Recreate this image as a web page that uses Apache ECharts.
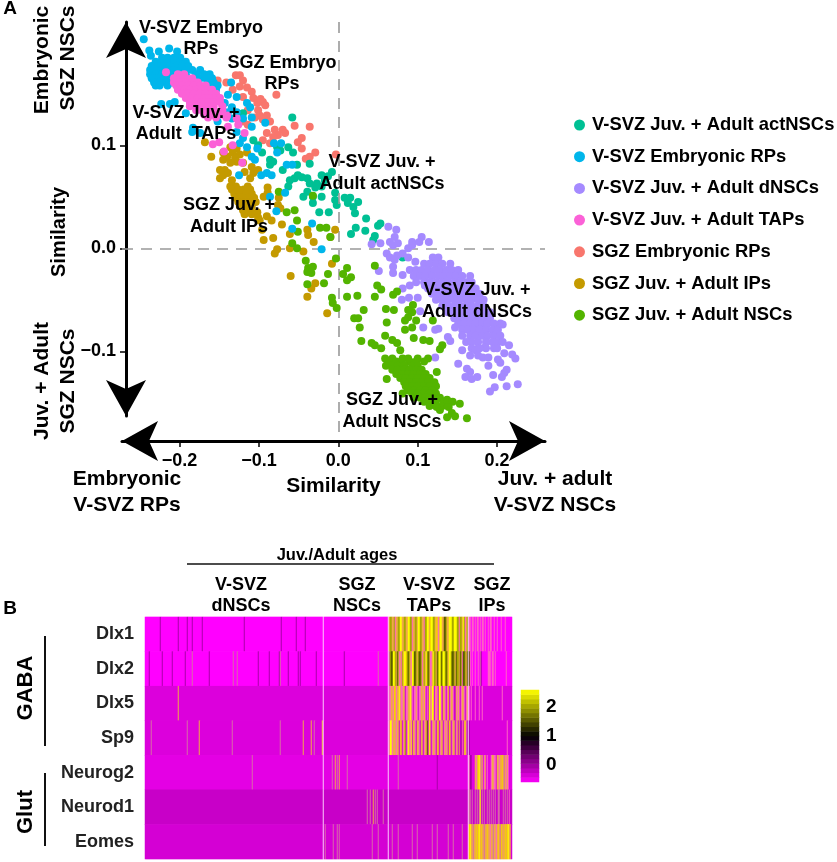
<!DOCTYPE html>
<html><head><meta charset="utf-8">
<style>html,body{margin:0;padding:0;background:#fff}#c{width:837px;height:862px}</style>
<script src="https://cdn.jsdelivr.net/npm/echarts@6/dist/echarts.min.js"></script>
</head><body><div id="c"></div>
<script>
// ---------- scatter data (similarity x, similarity y) ----------
const embryonicRPs = [[-.245,.203],[-.238,.192],[-.236,.187],[-.226,.191],[-.213,.194],[-.203,.191],
[-.222,.185],[-.215,.185],[-.207,.185],[-.199,.185],
[-.230,.181],[-.222,.181],[-.215,.181],[-.207,.181],[-.199,.181],[-.192,.181],
[-.235,.177],[-.227,.177],[-.220,.177],[-.212,.177],[-.204,.177],[-.197,.177],[-.189,.177],
[-.237,.173],[-.230,.173],[-.222,.173],[-.215,.173],[-.207,.173],[-.199,.173],[-.192,.173],[-.184,.173],[-.174,.173],
[-.237,.169],[-.230,.169],[-.222,.169],[-.215,.169],[-.207,.169],[-.199,.169],[-.192,.169],[-.179,.169],[-.169,.169],[-.162,.169],
[-.235,.165],[-.227,.165],[-.220,.165],[-.212,.165],[-.204,.165],[-.174,.165],[-.167,.165],[-.159,.165],
[-.232,.161],[-.225,.161],[-.217,.161],[-.209,.161],[-.162,.161],[-.157,.161],
[-.230,.158],[-.225,.158],[-.215,.158],[-.159,.158],[-.152,.158],[-.154,.154],
[-.223,.140],[-.206,.142],[-.212,.140],[-.192,.131],[-.183,.117],[-.184,.113],[-.174,.112],[-.143,.141],[-.134,.137],[-.115,.141],[-.111,.137],[-.135,.161],[-.139,.149],[-.128,.147],[-.128,.132],[-.109,.127],[-.120,.126],[-.092,.122],[-.109,.118],[-.128,.113],[-.120,.107],[-.124,.102],[-.115,.098],[-.102,.097],[-.109,.089],[-.105,.086],[-.081,.102],[-.072,.102],[-.077,.093],[-.125,.071],[-.097,.071],[-.090,.073],[-.084,.071],[-.065,.081],[-.058,.081],[-.067,.054],[-.086,.050],[-.078,.036],[-.058,.019],[-.033,.024],[-.021,-.001],[-.164,.165],[-.155,.156],[-.152,.144],[-.139,.132],[-.134,.126],[-.152,.123]];

const tapsVSVZ = [[-.217,.171],[-.202,.169],[-.194,.169],
[-.207,.165],[-.199,.165],[-.192,.165],[-.184,.165],
[-.207,.161],[-.199,.161],[-.192,.161],[-.184,.161],[-.177,.161],
[-.204,.158],[-.197,.158],[-.189,.158],[-.182,.158],[-.174,.158],[-.167,.158],
[-.202,.154],[-.194,.154],[-.187,.154],[-.179,.154],[-.172,.154],[-.164,.154],[-.159,.154],
[-.197,.150],[-.189,.150],[-.182,.150],[-.174,.150],[-.167,.150],[-.159,.150],[-.154,.150],
[-.192,.146],[-.184,.146],[-.177,.146],[-.169,.146],[-.162,.146],[-.154,.146],[-.149,.146],
[-.187,.142],[-.179,.142],[-.172,.142],[-.164,.142],[-.157,.142],[-.149,.142],
[-.187,.138],[-.179,.138],[-.172,.138],[-.164,.138],[-.157,.138],[-.146,.138],
[-.179,.134],[-.172,.134],[-.164,.134],[-.157,.134],[-.146,.134],
[-.169,.130],[-.159,.130],[-.146,.130],[-.164,.127],[-.154,.127],[-.141,.127],
[-.121,.083],[-.133,.100],[-.144,.094],[-.158,.101],[-.150,.103],[-.118,.112],[-.126,.120],[-.139,.118],[-.128,.126],[-.140,.129]];

const embryonicSGZ = [[-.129,.168],[-.124,.168],[-.152,.163],[-.141,.161],[-.120,.163],[-.124,.157],[-.115,.156],[-.109,.152],[-.133,.154],[-.078,.149],[-.120,.147],[-.107,.146],[-.102,.141],[-.095,.142],[-.092,.139],[-.099,.129],[-.090,.129],[-.086,.123],[-.114,.134],[-.120,.123],[-.105,.127],[-.095,.125],[-.114,.120],[-.080,.115],[-.070,.115],[-.067,.112],[-.055,.119],[-.036,.118],[-.076,.110],[-.090,.112],[-.046,.107],[-.051,.103],[-.046,.097],[-.086,.102],[-.029,.093],[-.036,.089],[-.041,.087],[-.003,.091],[-.095,.105],[-.082,.108],[-.101,.134],[-.098,.145]];

const ipsSGZ = [[-.168,.103],[-.160,.089],[-.145,.093],[-.136,.098],[-.128,.097],[-.140,.089],[-.133,.093],[-.124,.091],[-.115,.093],[-.130,.088],[-.145,.086],[-.120,.083],[-.128,.084],[-.136,.083],[-.149,.076],[-.143,.076],[-.149,.068],[-.145,.071],[-.139,.073],[-.134,.066],[-.118,.074],[-.109,.079],[-.107,.073],[-.111,.068],[-.101,.076],
[-.136,.060],[-.129,.060],[-.114,.060],
[-.134,.057],[-.126,.057],[-.119,.057],[-.111,.057],
[-.131,.053],[-.124,.053],[-.116,.053],[-.109,.053],
[-.129,.049],[-.121,.049],[-.114,.049],[-.106,.049],
[-.126,.045],[-.119,.045],[-.111,.045],[-.104,.045],
[-.124,.041],[-.116,.041],[-.109,.041],[-.120,.037],[-.111,.037],[-.118,.033],[-.109,.033],
[-.089,.059],[-.089,.054],[-.094,.050],[-.075,.049],[-.076,.042],[-.073,.039],[-.102,.035],[-.099,.027],[-.101,.030],[-.090,.031],[-.084,.027],[-.071,.023],[-.096,.018],[-.094,.008],[-.077,-.001],[-.082,.010],[-.061,.014],[-.039,.018],[-.038,.013],[-.031,.006],[-.010,.011],[-.004,.018],[-.080,-.005],[-.061,0],[-.044,-.003],[-.008,-.015],[-.060,-.027],[-.029,-.034],[-.034,-.039],[-.039,-.047],[-.014,-.063]];

const actNSCs = [[-.058,.127],[-.063,.098],[-.107,.105],[-.101,.100],[-.096,.093],[-.086,.086],[-.082,.084],[-.086,.081],[-.077,.098],[-.073,.095],[-.057,.093],[-.052,.081],[-.070,.076],[-.061,.066],[-.055,.068],[-.051,.071],[-.046,.069],[-.039,.068],[-.036,.063],[-.029,.059],[-.063,.060],[-.039,.055],[-.044,.050],[-.036,.082],[-.021,.071],[-.008,.074],[-.021,.060],[-.027,.063],[-.004,.054],[-.021,.050],[-.032,.050],[-.024,.035],[-.012,.035],[-.004,.047],[-.002,.042],[.008,.049],[.012,.044],[.019,.040],[.025,.045],[.021,.034],[.035,.029],[.022,.020],[.034,.017],[.016,.014],[.050,.022],[.044,.008],[.046,.012],[.081,-.009],[-.120,.131],[-.032,.044],[.015,.049],[.053,.024],[-.017,.066],[-.013,.070]];

const dNSCs = [[.063,.021],[.073,.018],[.071,.011],[.065,.006],[.075,.005],[.069,.003],[.053,.005],[.042,.004],[.105,.011],[.093,.006],[.102,.006],[.114,.006],[.088,0],[.093,.003],[.061,-.005],[.065,-.009],[.074,-.007],[.071,-.011],[.081,-.005],[.088,-.009],[.097,-.013],[.069,-.018],[.069,-.024],[.051,-.022],[.081,-.026],
[.119,-.009],[.126,-.009],
[.108,-.015],[.115,-.015],[.123,-.015],[.131,-.015],[.141,-.015],
[.090,-.021],[.098,-.021],[.105,-.021],[.113,-.021],[.121,-.021],[.128,-.021],[.136,-.021],[.143,-.021],[.151,-.021],
[.095,-.027],[.103,-.027],[.110,-.027],[.118,-.027],[.126,-.027],[.133,-.027],[.141,-.027],[.148,-.027],[.156,-.027],[.166,-.027],
[.108,-.033],[.115,-.033],[.123,-.033],[.131,-.033],[.138,-.033],[.146,-.033],[.153,-.033],[.161,-.033],[.168,-.033],
[.113,-.039],[.121,-.039],[.128,-.039],[.136,-.039],[.143,-.039],[.151,-.039],[.158,-.039],[.166,-.039],[.173,-.039],
[.118,-.044],[.126,-.044],[.133,-.044],[.141,-.044],[.148,-.044],[.156,-.044],[.163,-.044],[.171,-.044],[.178,-.044],
[.123,-.050],[.131,-.050],[.138,-.050],[.146,-.050],[.153,-.050],[.161,-.050],[.168,-.050],[.176,-.050],[.183,-.050],
[.131,-.056],[.138,-.056],[.146,-.056],[.153,-.056],[.161,-.056],[.168,-.056],[.176,-.056],[.183,-.056],
[.138,-.062],[.146,-.062],[.153,-.062],[.161,-.062],[.168,-.062],[.176,-.062],[.183,-.062],[.191,-.062],
[.146,-.068],[.153,-.068],[.161,-.068],[.168,-.068],[.176,-.068],[.183,-.068],[.191,-.068],
[.151,-.073],[.158,-.073],[.166,-.073],[.173,-.073],[.181,-.073],[.188,-.073],[.196,-.073],[.204,-.073],
[.156,-.079],[.163,-.079],[.171,-.079],[.178,-.079],[.186,-.079],[.194,-.079],[.201,-.079],
[.156,-.085],[.166,-.085],[.173,-.085],[.181,-.085],[.188,-.085],[.196,-.085],[.204,-.085],
[.161,-.091],[.168,-.091],[.176,-.091],[.186,-.091],[.194,-.091],[.201,-.091],
[.168,-.097],[.176,-.097],[.186,-.097],[.196,-.097],
[.081,-.039],[.090,-.036],[.098,-.033],[.080,-.050],[.089,-.048],[.100,-.048],[.109,-.036],[.103,-.061],[.107,-.077],[.122,-.079],[.126,-.078],[.147,-.077],[.138,-.086],[.141,-.090],[.122,-.106],[.151,-.112],[.162,-.117],[.166,-.120],[.160,-.125],[.168,-.127],[.175,-.125],[.156,-.099],[.166,-.104],[.173,-.099],[.176,-.104],[.182,-.106],[.189,-.106],[.189,-.114],[.201,-.108],[.204,-.111],[.209,-.102],[.207,-.091],[.215,-.094],[.200,-.097],[.219,-.103],[.223,-.107],[.212,-.118],[.209,-.121],[.206,-.125],[.195,-.123],[.212,-.134],[.226,-.132],[.197,-.135],[.191,-.139],[.207,-.074],[.185,-.096],[.178,-.097]];

const nscsSGZ = [[-.075,.055],[-.065,.035],[-.055,.037],[-.052,.027],[-.051,.016],[-.058,.005],[-.052,0],[-.041,-.012],[-.023,.020],[-.015,.020],[-.010,.011],[-.003,-.010],[-.038,-.019],[-.032,-.018],[-.039,-.023],[-.034,-.024],[-.013,-.025],[.011,-.019],[.006,-.025],[.016,-.028],[.011,-.031],[-.018,-.034],[-.039,-.035],[-.008,-.048],[-.007,-.053],[-.002,-.058],[.011,-.047],[.024,-.046],[.046,-.017],[.046,-.047],[.049,-.036],[.054,-.040],[.069,-.045],[.074,-.042],[.032,-.060],[.020,-.068],[.025,-.068],[.027,-.077],[.029,-.090],[.042,-.092],[.046,-.094],[.054,-.097],[.060,-.059],[.070,-.060],[.061,-.072],[.094,-.055],[.093,-.062],[.088,-.067],[.084,-.070],[.093,-.077],[.084,-.079],[.095,-.087],[.107,-.089],[.115,-.090],[.119,-.070],[.059,-.085],[.068,-.089],[.074,-.092],[.078,-.099],[.131,-.094],[.128,-.098],[.124,-.120],[.061,-.127],[-.032,.051],[.088,-.060],[.098,-.070],
[.059,-.107],[.068,-.107],[.081,-.107],[.088,-.107],[.100,-.107],[.113,-.107],
[.065,-.110],[.073,-.110],[.080,-.110],[.090,-.110],[.098,-.110],[.108,-.110],
[.060,-.114],[.068,-.114],[.075,-.114],[.083,-.114],[.093,-.114],[.100,-.114],
[.068,-.118],[.075,-.118],[.083,-.118],[.090,-.118],[.098,-.118],[.105,-.118],
[.073,-.122],[.080,-.122],[.088,-.122],[.095,-.122],[.103,-.122],[.110,-.122],
[.078,-.126],[.085,-.126],[.093,-.126],[.100,-.126],[.108,-.126],[.115,-.126],
[.083,-.130],[.090,-.130],[.098,-.130],[.105,-.130],[.113,-.130],[.121,-.130],
[.085,-.134],[.093,-.134],[.100,-.134],[.108,-.134],[.115,-.134],[.123,-.134],
[.088,-.138],[.095,-.138],[.103,-.138],[.110,-.138],[.118,-.138],
[.081,-.141],[.093,-.141],[.100,-.141],[.108,-.141],[.115,-.141],[.123,-.141],
[.095,-.145],[.103,-.145],[.110,-.145],[.118,-.145],[.128,-.145],
[.108,-.149],[.115,-.149],[.123,-.149],[.133,-.149],
[.115,-.153],[.123,-.153],[.131,-.153],[.138,-.153],
[.137,-.147],[.144,-.149],[.153,-.151],[.139,-.154],[.143,-.160],[.137,-.164],[.147,-.163],[.162,-.165],[.128,-.157],[.124,-.154]];

const seriesNames = ['V-SVZ Juv. + Adult actNSCs','V-SVZ Embryonic RPs','V-SVZ Juv. + Adult dNSCs','V-SVZ Juv. + Adult TAPs','SGZ Embryonic RPs','SGZ Juv. + Adult IPs','SGZ Juv. + Adult NSCs'];
const xTicks = [-0.2,-0.1,0,0.1,0.2];
const yTicks = [-0.1,0,0.1];

// ---------- heatmap data: one expression code per cell column ----------
const genes = ['Dlx1','Dlx2','Dlx5','Sp9','Neurog2','Neurod1','Eomes'];
const geneBase = ['a','a','b','b','c','d','e'];
const columnCount = 367;
const groupGaps = [178,243,323];
const tapStart = 244;
const ipStart = 324;
const stripes = [
 [[15,'D'],[33,'D'],[42,'D'],[47,'D'],[57,'D'],[99,'D'],[136,'D'],[151,'D'],[160,'D']],
 [[4,'D'],[17,'D'],[27,'D'],[40,'D'],[47,'S'],[64,'D'],[88,'S'],[92,'S'],[113,'D'],[124,'D'],[134,'D'],[135,'S'],[143,'D'],[153,'D'],[155,'D'],[171,'D'],[199,'D'],[233,'S']],
 [[33,'O']],
 [[6,'S'],[42,'S'],[54,'O'],[87,'S'],[135,'S'],[158,'O'],[166,'O'],[169,'S'],[177,'O']],
 [[107,'S'],[187,'S'],[190,'O'],[192,'S'],[194,'O'],[202,'S'],[253,'S'],[292,'D']],
 [[222,'S'],[225,'S'],[228,'O'],[230,'S'],[232,'S'],[238,'S']],
 [[180,'S'],[188,'S'],[192,'S'],[194,'S'],[227,'S'],[233,'S'],[247,'S'],[253,'S'],[267,'S'],[272,'S'],[287,'S'],[292,'S'],[303,'S'],[308,'S'],[317,'S']]
];
const tapColumns = [
 'OLLOOLPOOLLYYOOLLOOYYLLPOOLLOYYLLOOPLLYYOGYYLLOGGPOYYOOKKLOOYYYLLYYYLLPLLOYLPOL',
 'SLKKYYLOKLPOPLOYYGLKLOPYYKKLOLKKLPOLOYLKLPPOYLLOKLYYKLYYLKLOYYLKKLOKLLOKLPKKLOK',
 'PPOOPGGPOOYOPPOOMPPOOYOPMPPOPMPPOOPGPMPMYOPYYMPOPMYYPMOOPMPGMPOOPMMOPOPMPOOPMPO',
 'PYYPOOOPOOMOGMPOLMPYOPYMOOPMOOPMOOMPOOKMYOMPOOPMOGMPOOMPOPOMGOMPOOMPOMOMDPMOGPD'
];
const ipColumns = [
 'PP.PP.P.PP.P.PP.P..P.PP..P..P...P...P......',
 'KP.P..P..P.SD......PPP.PP.P..........P.....',
 'P.P...P...P..P...................P.........',
 'D.....................................P....',
 'PDD...OPOGYOSO.PO.P...POOPP.OOPOOGOSOPOP...',
 'SS.S.MS.S.SY.S.SM.S.SMS.SMS.MSS.M.SMS.S.P..',
 'GYOOSOOGOGYOGOOSOOGOOPOOSOOPOGOSGOOOGOGYOO.'
];
const levelCodes = ['a','b','c','d','e','Y','G','O','P','S','L','K','D','M','W'];
const levelColors = ['#ff00ff','#dc00dc','#e400e4','#c800c8','#d400d4','#ffff00','#f5d000','#f0a848','#ff62c4','#d86aa8','#a8a800','#5c5c00','#a800a8','#d000d0','#fbc8fb'];
const colorbarLevels = [-0.51,-0.35,-0.19,-0.03,0.13,0.29,0.45,0.61,0.77,0.93,1.09,1.25,1.41,1.57,1.73,1.89,2.05,2.21,2.37,2.53];
const colorbarTicks = [0,1,2];

function buildHeat(){
  const out=[];
  genes.forEach((g,r)=>{
    const row=new Array(columnCount).fill(geneBase[r]);
    if(tapColumns[r]) for(let i=0;i<tapColumns[r].length&&tapStart+i<groupGaps[2];i++) row[tapStart+i]=tapColumns[r][i]==='.'?geneBase[r]:tapColumns[r][i];
    for(let i=0;i<ipColumns[r].length&&ipStart+i<columnCount;i++) row[ipStart+i]=ipColumns[r][i]==='.'?geneBase[r]:ipColumns[r][i];
    stripes[r].forEach(s=>{row[s[0]]=s[1];});
    groupGaps.forEach(c=>{row[c]='W';});
    row.forEach((code,c)=>out.push([c,r,levelCodes.indexOf(code)]));
  });
  return out;
}

// axis ranges that place the plot
const xMin=-0.2724,xMax=0.2603,yMin=-0.1628,yMax=0.2197;
const F='"Liberation Sans",Arial,sans-serif';
const scatterColors=['#00C094','#00B6EB','#A58AFF','#FB61D7','#F8766D','#C49A00','#53B400'];
const sets=[embryonicSGZ,actNSCs,ipsSGZ,dNSCs,nscsSGZ,embryonicRPs,tapsVSVZ];
const setIdx=[4,0,5,2,6,1,3];

const txt=(t,x,y,size,opt)=>Object.assign({type:'text',x,y,z:20,silent:true,style:{text:t,fill:'#000',textAlign:'center',textVerticalAlign:'middle',font:'bold '+size+'px '+F}},opt||{});
const rot=(t,x,y,size)=>txt(t,x,y,size,{rotation:Math.PI/2});
const ln=(x1,y1,x2,y2,w)=>({type:'line',z:20,silent:true,shape:{x1,y1,x2,y2},style:{stroke:'#111',lineWidth:w}});

const chart=echarts.init(document.getElementById('c'),null,{renderer:'canvas'});
const scatterSeries=sets.map((d,i)=>({type:'scatter',name:seriesNames[setIdx[i]],data:d,xAxisIndex:0,yAxisIndex:0,symbolSize:8,clip:false,silent:true,itemStyle:{color:scatterColors[setIdx[i]],opacity:1},z:3+i}));
const boldAxis={color:'#000',fontWeight:'bold',fontFamily:F,fontSize:18};
const fmt=v=>(v<0?'\u2212':'')+Math.abs(v).toFixed(1);
chart.setOption({
 animation:false,backgroundColor:'#fff',
 legend:{data:seriesNames,orient:'vertical',left:569,top:111,icon:'circle',itemWidth:11,itemHeight:11,itemGap:13.7,selectedMode:false,
  textStyle:{color:'#000',fontWeight:'bold',fontSize:18.4,fontFamily:F,padding:[0,0,0,2]},formatter:n=>n},
 grid:[{left:122,top:22,width:423,height:394},{left:145,top:617,width:367,height:242},{left:521,top:690,width:18,height:92}],
 xAxis:[
  {type:'value',gridIndex:0,min:xMin,max:xMax,offset:25,position:'bottom',splitLine:{show:false},
   axisLine:{show:true,onZero:false,symbol:['arrow','arrow'],symbolSize:[30,36],symbolOffset:[0,0],lineStyle:{color:'#000',width:3}},
   axisTick:{show:true,length:6,customValues:xTicks,lineStyle:{color:'#000',width:1.5}},
   axisLabel:{customValues:xTicks,formatter:fmt,margin:11,...boldAxis},
   name:'Similarity',nameLocation:'middle',nameGap:35,nameTextStyle:{color:'#000',fontWeight:'bold',fontSize:21,fontFamily:F}},
  {type:'category',gridIndex:1,data:Array.from({length:columnCount},(_,i)=>i),show:false},
  {type:'category',gridIndex:2,data:['scale'],show:false}
 ],
 yAxis:[
  {type:'value',gridIndex:0,min:yMin,max:yMax,position:'left',offset:-4,splitLine:{show:false},
   axisLine:{show:true,onZero:false,symbol:['arrow','arrow'],symbolSize:[30,36],symbolOffset:[0,0],lineStyle:{color:'#000',width:3}},
   axisTick:{show:true,length:6,customValues:yTicks,lineStyle:{color:'#000',width:1.5}},
   axisLabel:{customValues:yTicks,formatter:fmt,margin:10,...boldAxis},
   name:'Similarity',nameLocation:'middle',nameGap:38,nameTextStyle:{color:'#000',fontWeight:'bold',fontSize:20,fontFamily:F,padding:[0,26,0,0]}},
  {type:'category',gridIndex:1,data:genes,inverse:true,axisLine:{show:false},axisTick:{show:false},splitLine:{show:false},
   axisLabel:{margin:11,color:'#222',fontWeight:'bold',fontSize:18,fontFamily:F,padding:[6,0,0,0]}},
  {type:'category',gridIndex:2,data:colorbarLevels,show:false},
  {type:'value',gridIndex:2,position:'right',min:-0.59,max:2.59,splitLine:{show:false},axisLine:{show:false},
   axisTick:{show:true,inside:true,length:4,customValues:colorbarTicks,lineStyle:{color:'#ddd',width:1}},
   axisLabel:{customValues:colorbarTicks,margin:7,color:'#000',fontWeight:'bold',fontSize:19,fontFamily:F,formatter:v=>String(v)}}
 ],
 visualMap:[
  {type:'piecewise',show:false,seriesIndex:8,dimension:2,pieces:levelColors.map((c,i)=>({value:i,color:c}))},
  {type:'continuous',show:false,seriesIndex:9,dimension:2,min:-0.6,max:2.6,inRange:{color:['#ff00ff','#000000','#ffff00']}}
 ],
 series:[...scatterSeries,
  {type:'scatter',name:'guides',data:[],xAxisIndex:0,yAxisIndex:0,clip:false,silent:true,z:2,
   markLine:{silent:true,symbol:'none',clip:false,animation:false,label:{show:false},lineStyle:{color:'#999',width:1.6,type:[11,8]},
    data:[[{coord:[0,yMax]},{x:338.3,y:438}],[{coord:[xMin,0]},{coord:[xMax,0]}]]}},
  {type:'heatmap',data:buildHeat(),xAxisIndex:1,yAxisIndex:1,progressive:0,silent:true},
  {type:'heatmap',data:colorbarLevels.map((v,i)=>[0,i,v]),xAxisIndex:2,yAxisIndex:2,silent:true}
 ],
 graphic:{elements:[
  txt('A',10,9,19),txt('B',10,609,19),
  txt('V-SVZ Embryo',201,28,18),txt('RPs',201,49,18),
  txt('SGZ Embryo',282,63,18),txt('RPs',282,84,18),
  txt('V-SVZ Juv. +',186,113,18),txt('Adult  TAPs',186,134,18),
  txt('V-SVZ Juv. +',382,162,18),txt('Adult actNSCs',382,184,18),
  txt('SGZ Juv. +',229,205,18),txt('Adult IPs',229,227,18),
  txt('V-SVZ Juv. +',477,290,18),txt('Adult dNSCs',477,312,18),
  txt('SGZ Juv. +',392,400,18),txt('Adult NSCs',392,422,18),
  txt('Embryonic',127,479,21),txt('V-SVZ RPs',127,505,21),
  txt('Juv. + adult',555,479,21),txt('V-SVZ NSCs',555,505,21),
  rot('Embryonic',42,60,21),rot('SGZ NSCs',68,58,21),
  rot('Juv. + Adult',42,381,21),rot('SGZ NSCs',68,381,21),
  txt('Juv./Adult ages',337,555,16.5),ln(187,564,494,564,1.5),
  txt('V-SVZ',241,585,18),txt('dNSCs',241,606,18),
  txt('SGZ',357,585,18),txt('NSCs',357,606,18),
  txt('V-SVZ',429,585,18),txt('TAPs',429,606,18),
  txt('SGZ',492,585,18),txt('IPs',492,606,18),
  rot('GABA',26,688,22),rot('Glut',26,812,22),
  ln(45,636,45,746,2),ln(45,773,45,846,2)
 ]}
});
</script></body></html>
